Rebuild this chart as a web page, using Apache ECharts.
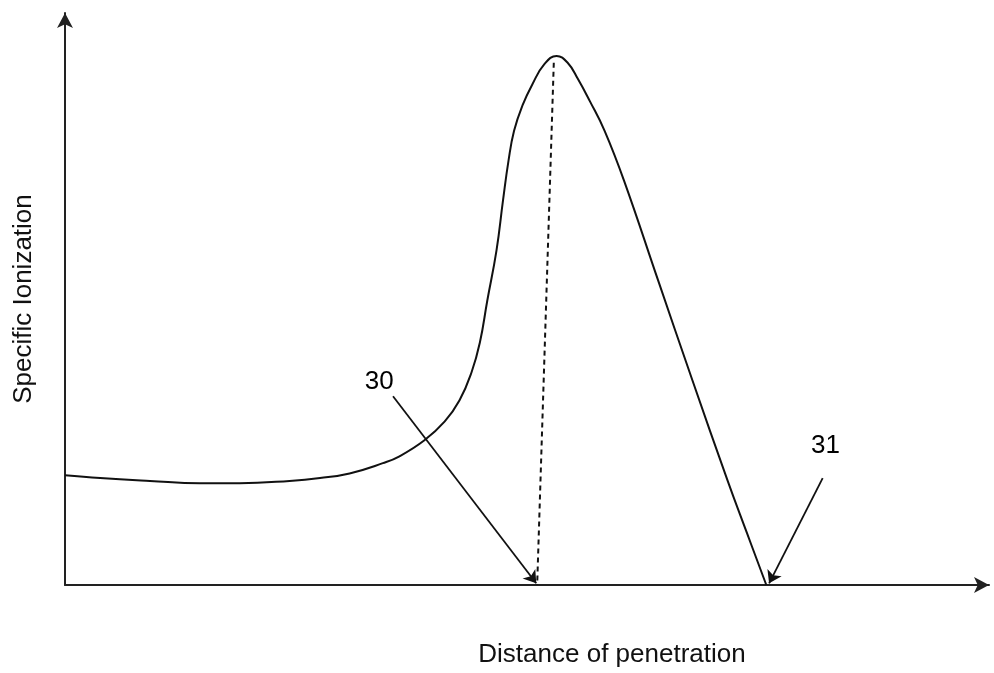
<!DOCTYPE html>
<html>
<head>
<meta charset="utf-8">
<title>Specific Ionization vs Distance of penetration</title>
<script src="https://cdn.jsdelivr.net/npm/echarts@6/dist/echarts.min.js"></script>
<style>
  html, body { margin: 0; padding: 0; background: #fff; }
  #chart { width: 994px; height: 673px; }
</style>
</head>
<body>
<div id="chart"></div>
<script>
// Bragg-type curve, arbitrary units (x: 0..100, y: 0..100)
const distance = [0, 3.8, 9.2, 14.6, 18.9, 24.3, 27.6, 30.8, 34.4, 36.2, 38.9, 41.1, 42.7, 44.0,
  44.9, 45.7, 46.7, 47.4, 48.0, 48.6, 49.5, 50.6, 51.9, 53.2, 54.4, 55.5, 56.8, 58.4, 60.5,
  64.2, 67.9, 71.7, 73.8, 75.9];
const ionization = [19.2, 18.7, 18.2, 17.8, 17.8, 18.2, 18.7, 19.5, 21.3, 22.5, 25.3, 28.6, 32.3, 37.2,
  42.4, 49.7, 58.5, 67.2, 74.2, 79.4, 83.8, 87.6, 91.1, 92.5, 91.3, 88.5, 84.6, 79.4, 70.7,
  53.2, 35.8, 18.3, 9.1, 0];

// dashed line from the peak down to the axis
const peakLine = [[52.9, 91.3], [51.1, 0]];

// pointer arrows and their labels
const arrowNames = ["30", "31"];
const arrowFrom = [[35.5, 33.0], [82.0, 18.7]];
const arrowTo = [[51.0, 0.3], [76.2, 0.3]];
const labelPos = [[34.0, 35.6], [82.3, 24.3]];

const FONT = "'Liberation Sans', Arial, Helvetica, sans-serif";
const INK = "#111";

const chart = echarts.init(document.getElementById("chart"), null, { renderer: "canvas" });

const axisCommon = {
  type: "value", min: 0, max: 100,
  axisTick: { show: false }, axisLabel: { show: false }, splitLine: { show: false },
  axisLine: { show: true, onZero: false, symbol: ["none", "arrow"], symbolSize: [12, 15],
              lineStyle: { color: "#222", width: 2 } },
  nameLocation: "middle",
};

chart.setOption({
  animation: false,
  backgroundColor: "#fff",
  grid: { left: 65, right: 5, top: 13, bottom: 88 },
  xAxis: Object.assign({}, axisCommon, {
    name: "Distance of penetration", nameGap: 57,
    // the title sits right of the axis centre in the original
    nameTextStyle: { fontFamily: FONT, fontSize: 26, color: INK, padding: [0, 0, 0, 170] },
  }),
  yAxis: Object.assign({}, axisCommon, {
    name: "Specific Ionization", nameGap: 28,
    nameTextStyle: { fontFamily: FONT, fontSize: 26, color: INK },
  }),
  series: [
    {
      type: "line", smooth: 0.45, symbol: "none",
      lineStyle: { color: INK, width: 2 },
      data: distance.map((x, i) => [x, ionization[i]]),
    },
    {
      type: "line", symbol: "none",
      lineStyle: { color: INK, width: 2, type: [5, 4] },
      data: peakLine,
    },
    {
      type: "lines", coordinateSystem: "cartesian2d",
      symbol: ["none", "arrow"], symbolSize: 12,
      lineStyle: { color: INK, width: 1.8, opacity: 1 },
      data: arrowNames.map((n, i) => ({ name: n, coords: [arrowFrom[i], arrowTo[i]] })),
    },
    {
      type: "scatter", symbolSize: 0, itemStyle: { color: INK },
      label: { show: true, position: "inside", formatter: (p) => p.name,
               fontFamily: FONT, fontSize: 26, color: "#000", opacity: 1 },
      data: arrowNames.map((n, i) => ({ name: n, value: labelPos[i] })),
    },
  ],
});
</script>
</body>
</html>
